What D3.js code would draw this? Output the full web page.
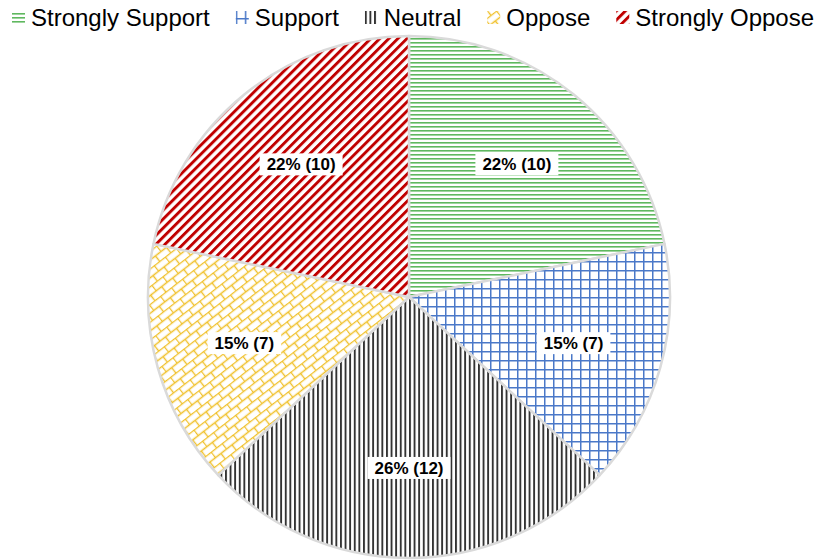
<!DOCTYPE html>
<html>
<head>
<meta charset="utf-8">
<script src="https://cdn.jsdelivr.net/npm/d3@7"></script>
<style>
  body { margin: 0; background: #fff; }
  svg { display: block; font-family: "Liberation Sans", Arial, sans-serif; }
</style>
</head>
<body>
<div id="chart"></div>
<script>
const categories = ['Strongly Support', 'Support', 'Neutral', 'Oppose', 'Strongly Oppose'];
const counts = [10, 7, 12, 7, 10];

const width = 815, height = 560;
const cx = 409, cy = 297, radius = 261;

const svg = d3.select('#chart').append('svg')
  .attr('width', width)
  .attr('height', height);

const defs = svg.append('defs');

// fill patterns, one per category
function pattern(id, w, h, transform) {
  let p = defs.append('pattern')
    .attr('id', id)
    .attr('patternUnits', 'userSpaceOnUse')
    .attr('width', w)
    .attr('height', h);
  if (transform) p.attr('patternTransform', transform);
  p.append('rect').attr('width', w).attr('height', h).attr('fill', '#fff');
  return p;
}

// horizontal lines - green
pattern('p0', 4, 4).append('rect')
  .attr('x', 0).attr('y', 1).attr('width', 4).attr('height', 1.6)
  .attr('fill', '#5fb85f');

// grid - blue
let p1 = pattern('p1', 9, 9);
p1.append('rect').attr('x', 0).attr('y', 0).attr('width', 9).attr('height', 1.5).attr('fill', '#4a78c8');
p1.append('rect').attr('x', 0).attr('y', 0).attr('width', 1.5).attr('height', 9).attr('fill', '#4a78c8');

// vertical lines - dark
pattern('p2', 4.6, 4).append('rect')
  .attr('x', 0).attr('y', 0).attr('width', 1.9).attr('height', 4)
  .attr('fill', '#333');

// diagonal brick - gold
let p3 = pattern('p3', 14, 14, 'rotate(-38)');
p3.append('path')
  .attr('d', 'M0,0.5H14M0,7.5H14M0.5,0V7M7.5,7V14')
  .attr('stroke', '#f0c12c')
  .attr('stroke-width', 1.4)
  .attr('fill', 'none');

// diagonal stripes - dark red
pattern('p4', 6.4, 6.4, 'rotate(45)').append('rect')
  .attr('x', 0).attr('y', 0).attr('width', 2.9).attr('height', 6.4)
  .attr('fill', '#c00000');

const total = d3.sum(counts);
const data = categories.map((c, i) => ({cat: c, value: counts[i], idx: i}));

const pie = d3.pie().sort(null).value(d => d.value);
const arcs = pie(data);

const arc = d3.arc().innerRadius(0).outerRadius(radius);
const labelArc = d3.arc().innerRadius(radius * 0.655).outerRadius(radius * 0.655);

const g = svg.append('g')
  .attr('transform', 'translate(' + cx + ',' + cy + ')');

g.selectAll('.slice')
  .data(arcs)
  .enter()
    .append('path')
    .attr('class', 'slice')
    .attr('d', arc)
    .attr('fill', d => 'url(#p' + d.data.idx + ')')
    .attr('stroke', '#dadada')
    .attr('stroke-width', 2.5)
    .attr('stroke-linejoin', 'round');

// data labels with white box
let labels = g.selectAll('.lbl')
  .data(arcs)
  .enter()
    .append('g')
    .attr('class', 'lbl')
    .attr('transform', d => 'translate(' + labelArc.centroid(d) + ')');

labels.append('rect').attr('fill', '#fff');
labels.append('text')
  .attr('text-anchor', 'middle')
  .attr('dy', '0.35em')
  .style('font-size', '17px')
  .style('font-weight', 'bold')
  .attr('fill', '#000')
  .text(d => Math.round(d.value / total * 100) + '% (' + d.value + ')');

labels.each(function() {
  let t = d3.select(this).select('text').node().getBBox();
  d3.select(this).select('rect')
    .attr('x', t.x - 7)
    .attr('y', -11)
    .attr('width', t.width + 14)
    .attr('height', 22);
});

// legend
const legend = svg.append('g').attr('class', 'legend');
let lx = 12;
categories.forEach((c, i) => {
  let item = legend.append('g').attr('transform', 'translate(' + lx + ',0)');
  item.append('rect')
    .attr('x', 0).attr('y', 11)
    .attr('width', 13).attr('height', 13)
    .attr('fill', 'url(#p' + i + ')');
  let t = item.append('text')
    .attr('x', 19)
    .attr('y', 26)
    .style('font-size', '24px')
    .attr('fill', '#000')
    .text(c);
  lx += 19 + t.node().getComputedTextLength() + 26;
});
</script>
</body>
</html>
